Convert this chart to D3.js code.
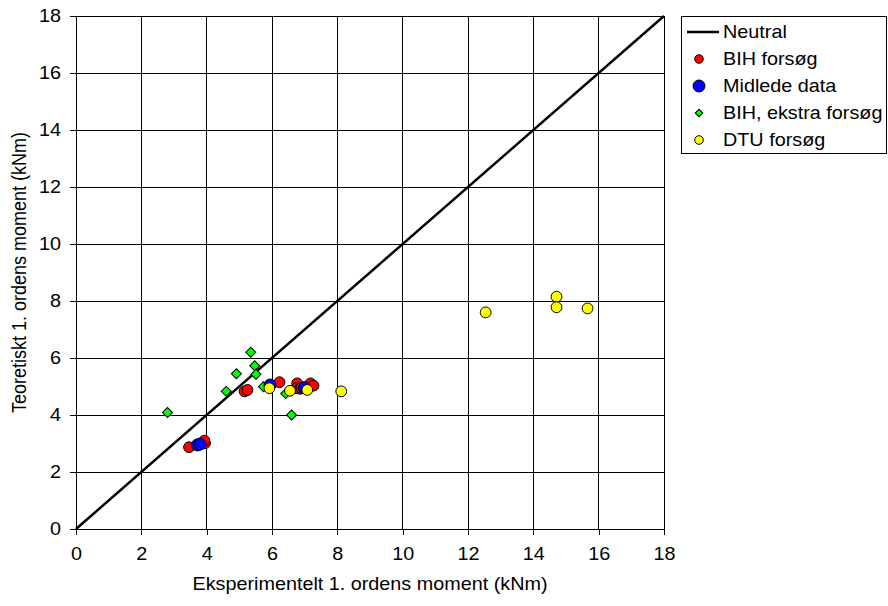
<!DOCTYPE html>
<html>
<head>
<meta charset="utf-8">
<script src="https://cdn.jsdelivr.net/npm/d3@7"></script>
<style>
  html, body { margin: 0; padding: 0; background: #fff; }
  svg { display: block; font-family: Arial, "Liberation Sans", sans-serif; }
</style>
</head>
<body>
<svg id="chart" width="888" height="606"></svg>
<script>
// Tick values for both axes (kNm)
const ticks = [0, 2, 4, 6, 8, 10, 12, 14, 16, 18];

// Neutral line: theory equals experiment
const neutral = [[0, 0], [18, 18]];

// BIH forsøg [experimental, theoretical]
const bihX = [3.46, 3.95, 3.93, 5.16, 5.25, 6.23, 6.77, 6.75, 6.85, 6.90, 7.18, 7.27];
const bihY = [2.87, 3.01, 3.10, 4.83, 4.88, 5.15, 5.11, 4.94, 4.92, 4.95, 5.11, 5.03];

// Midlede data
const midX = [3.72, 3.80, 5.94, 6.99];
const midY = [2.95, 2.98, 5.05, 4.96];

// BIH, ekstra forsøg
const ekstraX = [2.80, 4.60, 4.91, 5.35, 5.47, 5.51, 5.74, 6.42, 6.60];
const ekstraY = [4.09, 4.83, 5.45, 6.20, 5.73, 5.43, 4.99, 4.75, 4.00];

// DTU forsøg
const dtuX = [5.92, 6.55, 7.08, 8.12, 12.54, 14.71, 14.71, 15.66];
const dtuY = [4.94, 4.85, 4.88, 4.83, 7.60, 8.15, 7.78, 7.74];

const legendLabels = ["Neutral", "BIH forsøg", "Midlede data", "BIH, ekstra forsøg", "DTU forsøg"];

const svg = d3.select("#chart");
const plotL = 76, plotR = 664, plotT = 16, plotB = 529;
const fontSize = "18px";
const stretch = 1.1; // glyphs are drawn slightly wide

const x = d3.scaleLinear().domain([0, 18]).range([plotL, plotR]);
const y = d3.scaleLinear().domain([0, 18]).range([plotB, plotT]);

// Grid lines
const grid = svg.append("g").attr("stroke", "#000").attr("stroke-width", 1).attr("shape-rendering", "crispEdges");
grid.selectAll(".gx").data(ticks).join("line").attr("class", "gx")
  .attr("x1", d => x(d)).attr("x2", d => x(d)).attr("y1", plotT).attr("y2", plotB);
grid.selectAll(".gy").data(ticks).join("line").attr("class", "gy")
  .attr("x1", plotL).attr("x2", plotR).attr("y1", d => y(d)).attr("y2", d => y(d));

// Axes
const xAxis = svg.append("g").attr("transform", `translate(0,${plotB})`)
  .call(d3.axisBottom(x).tickValues(ticks).tickSize(6).tickPadding(12).tickFormat(d3.format("d")));
const yAxis = svg.append("g").attr("transform", `translate(${plotL},0)`)
  .call(d3.axisLeft(y).tickValues(ticks).tickSize(6).tickPadding(9).tickFormat(d3.format("d")));
[xAxis, yAxis].forEach(a => {
  a.selectAll("path, line").attr("stroke", "#000").attr("shape-rendering", "crispEdges");
  a.selectAll("text").attr("fill", "#000").style("font-size", fontSize)
    .style("font-family", "Arial, 'Liberation Sans', sans-serif")
    .attr("transform", `scale(${stretch},1)`);
});
yAxis.selectAll("text").attr("x", -15 / stretch);

// Neutral line
const line = d3.line().x(d => x(d[0])).y(d => y(d[1]));
svg.append("path").datum(neutral).attr("d", line)
  .attr("fill", "none").attr("stroke", "#000").attr("stroke-width", 2.5);

const zip = (a, b) => a.map((v, i) => [v, b[i]]);

// Green diamonds
svg.append("g").selectAll("path").data(zip(ekstraX, ekstraY)).join("path")
  .attr("d", d3.symbol().type(d3.symbolSquare).size(50)())
  .attr("transform", d => `translate(${x(d[0])},${y(d[1])}) rotate(45)`)
  .attr("fill", "#00ff00").attr("stroke", "#000").attr("stroke-width", 1);

// Red circles
svg.append("g").selectAll("circle").data(zip(bihX, bihY)).join("circle")
  .attr("cx", d => x(d[0])).attr("cy", d => y(d[1])).attr("r", 5.4)
  .attr("fill", "#ff0000").attr("stroke", "#000").attr("stroke-width", 1);

// Blue circles
svg.append("g").selectAll("circle").data(zip(midX, midY)).join("circle")
  .attr("cx", d => x(d[0])).attr("cy", d => y(d[1])).attr("r", 6)
  .attr("fill", "#0000ff").attr("stroke", "#000").attr("stroke-width", 1);

// Yellow circles
svg.append("g").selectAll("circle").data(zip(dtuX, dtuY)).join("circle")
  .attr("cx", d => x(d[0])).attr("cy", d => y(d[1])).attr("r", 5.4)
  .attr("fill", "#ffff00").attr("stroke", "#000").attr("stroke-width", 1);

// Plot frame
svg.append("rect").attr("x", plotL).attr("y", plotT).attr("width", plotR - plotL).attr("height", plotB - plotT)
  .attr("fill", "none").attr("stroke", "#000").attr("stroke-width", 1).attr("shape-rendering", "crispEdges");

// Axis titles
svg.append("text").attr("transform", `translate(${(plotL + plotR) / 2},590) scale(${stretch},1)`)
  .attr("text-anchor", "middle").style("font-size", fontSize)
  .text("Eksperimentelt 1. ordens moment (kNm)");
svg.append("text").attr("transform", `translate(26,${(plotT + plotB) / 2}) scale(${stretch},1) rotate(-90)`)
  .attr("text-anchor", "middle").style("font-size", fontSize)
  .text("Teoretiskt 1. ordens moment (kNm)");

// Legend
const lg = svg.append("g");
lg.append("rect").attr("x", 681).attr("y", 16).attr("width", 205).attr("height", 137)
  .attr("fill", "#fff").attr("stroke", "#000").attr("stroke-width", 1).attr("shape-rendering", "crispEdges");
const rowY = i => 32 + i * 27;
const markX = 699;
lg.append("line").attr("x1", 687).attr("x2", 719).attr("y1", rowY(0)).attr("y2", rowY(0))
  .attr("stroke", "#000").attr("stroke-width", 2.5);
lg.append("circle").attr("cx", markX).attr("cy", rowY(1)).attr("r", 4.3).attr("fill", "#ff0000").attr("stroke", "#000");
lg.append("circle").attr("cx", markX).attr("cy", rowY(2)).attr("r", 6).attr("fill", "#0000ff").attr("stroke", "#000");
lg.append("path").attr("d", d3.symbol().type(d3.symbolSquare).size(28)())
  .attr("transform", `translate(${markX},${rowY(3)}) rotate(45)`).attr("fill", "#00ff00").attr("stroke", "#000");
lg.append("circle").attr("cx", markX).attr("cy", rowY(4)).attr("r", 4.3).attr("fill", "#ffff00").attr("stroke", "#000");
lg.selectAll("text").data(legendLabels).join("text")
  .attr("transform", (d, i) => `translate(723,${rowY(i)}) scale(${stretch},1)`)
  .attr("dy", "0.35em").style("font-size", fontSize).text(d => d);
</script>
</body>
</html>
